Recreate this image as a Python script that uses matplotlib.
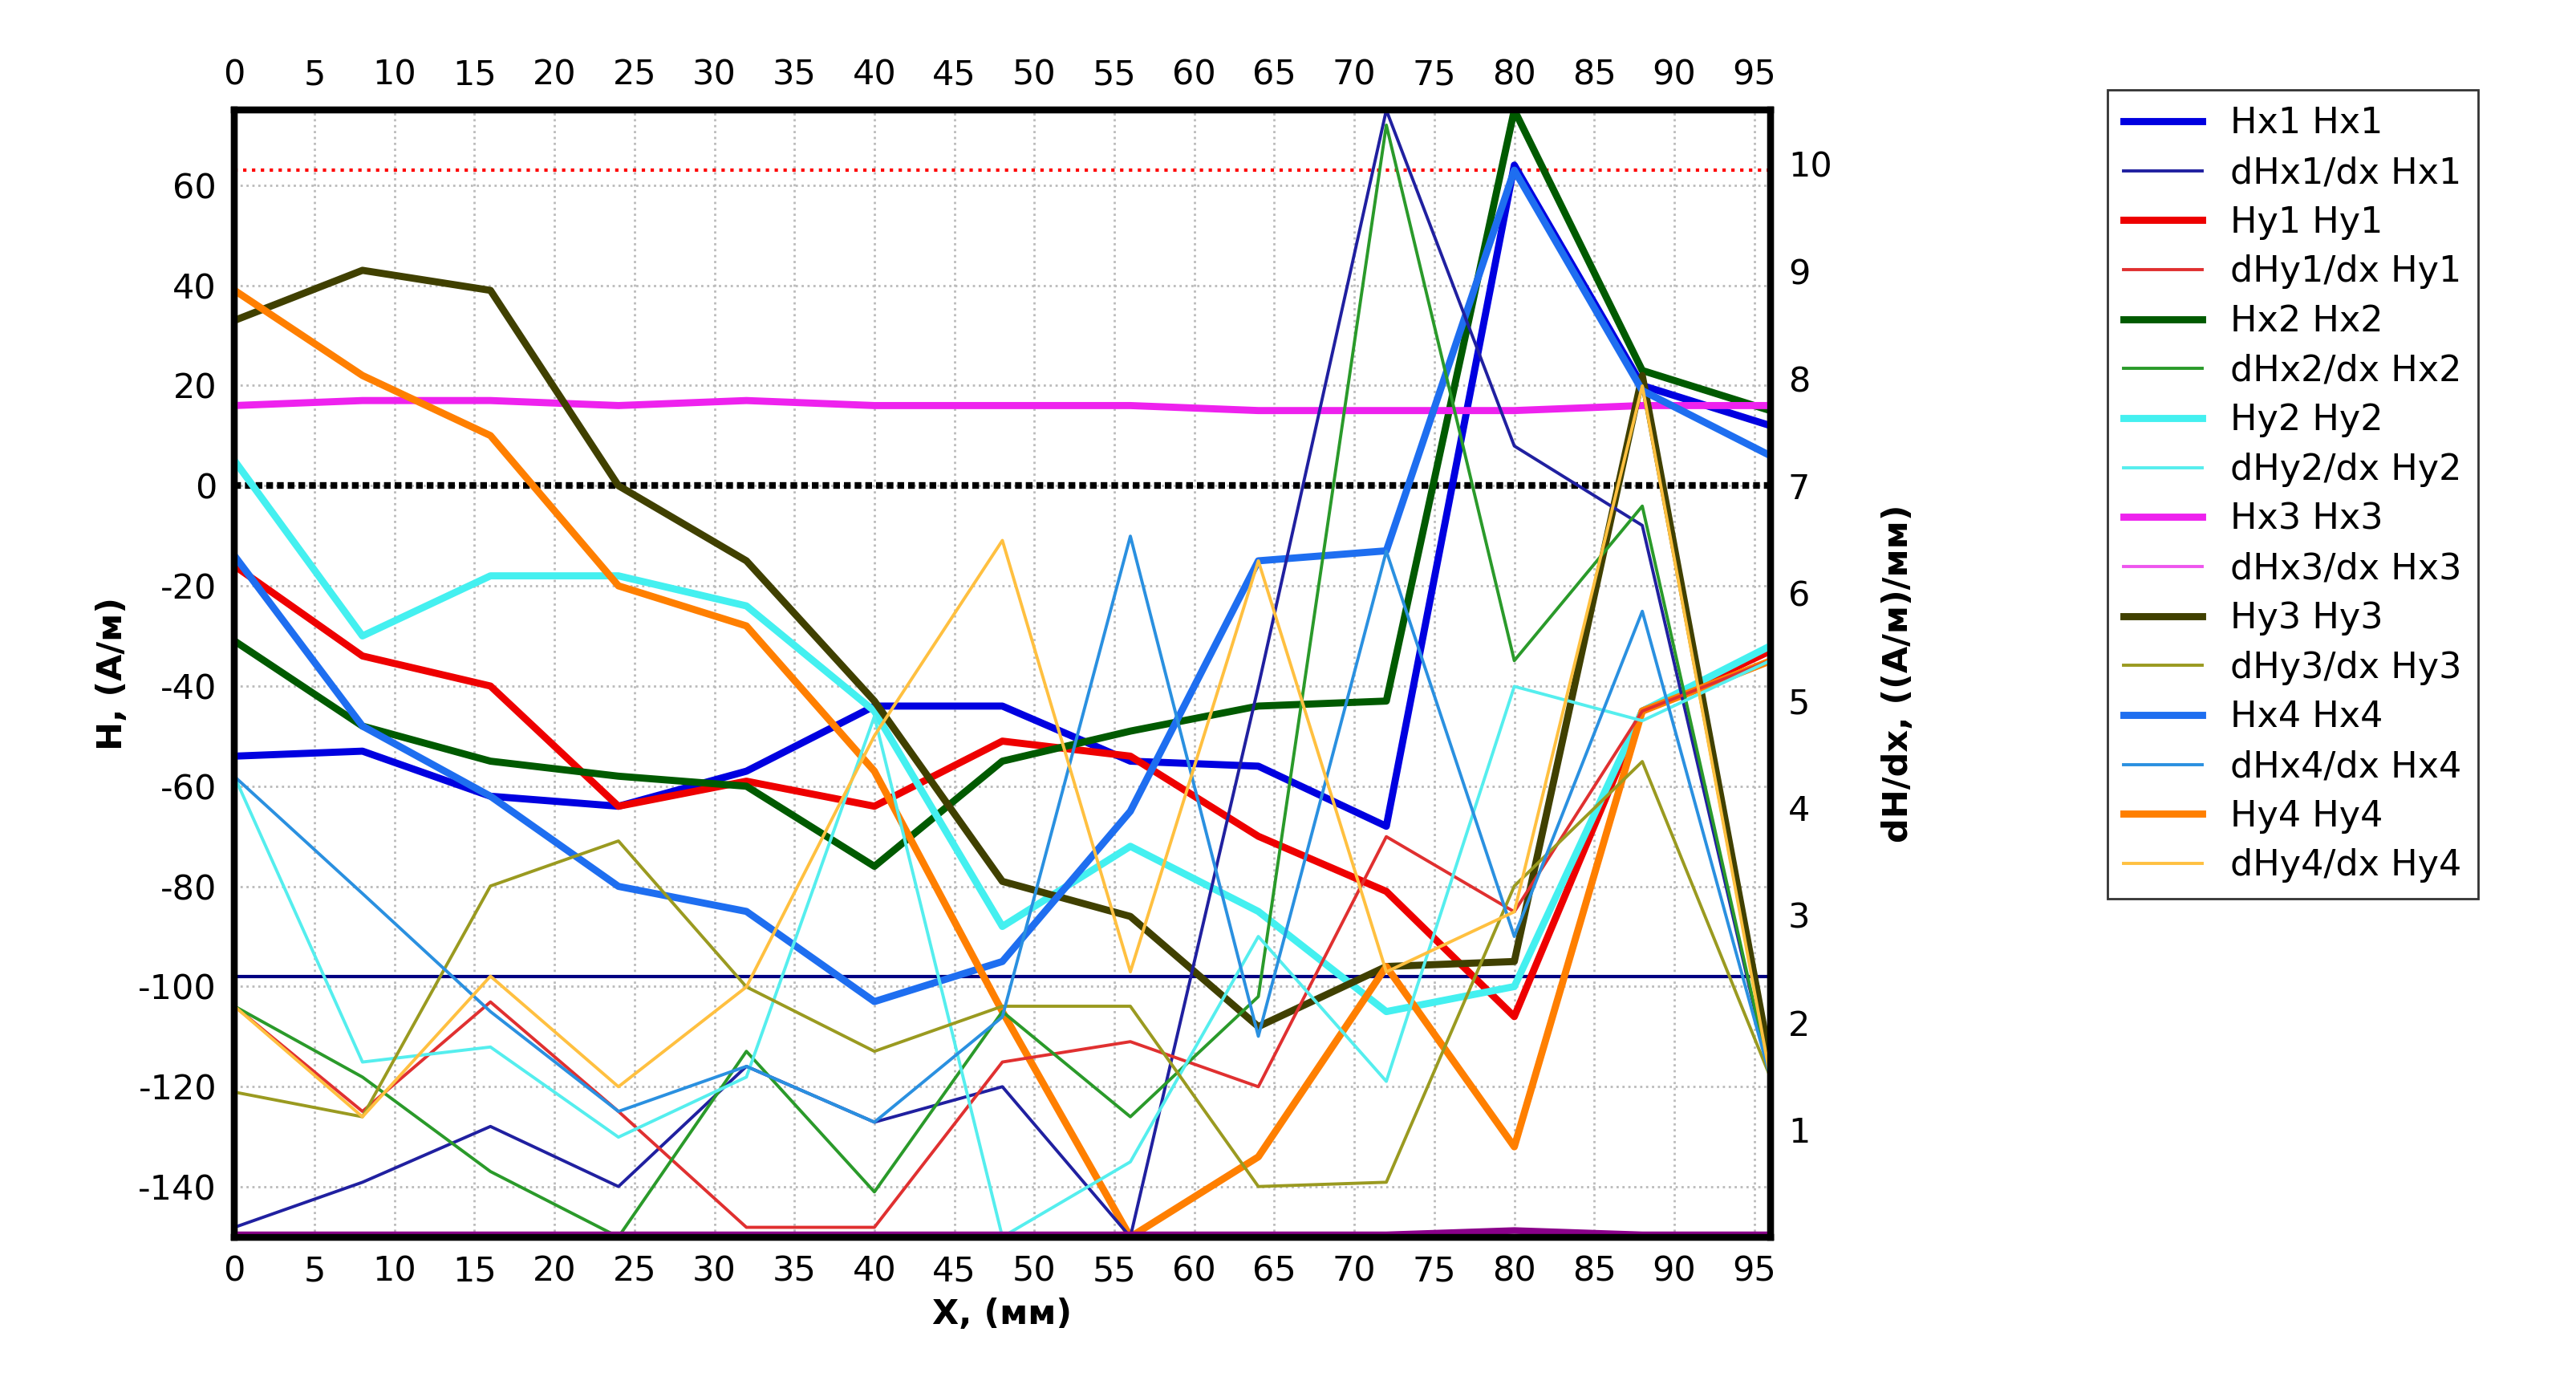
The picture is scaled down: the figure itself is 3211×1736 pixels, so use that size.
import matplotlib
matplotlib.use("Agg")
import matplotlib.pyplot as plt
import numpy as np

x = [0, 8, 16, 24, 32, 40, 48, 56, 64, 72, 80, 88, 96]

Hx1 = [-54, -53, -62, -64, -57, -44, -44, -55, -56, -68, 64, 20, 12]
Hy1 = [-16, -34, -40, -64, -59, -64, -51, -54, -70, -81, -106, -45, -33]
Hx2 = [-31, -48, -55, -58, -60, -76, -55, -49, -44, -43, 75, 23, 15]
Hy2 = [5, -30, -18, -18, -24, -45, -88, -72, -85, -105, -100, -45, -32]
Hx3 = [16, 17, 17, 16, 17, 16, 16, 16, 15, 15, 15, 16, 16]
Hy3 = [33, 43, 39, 0, -15, -43, -79, -86, -108, -96, -95, 22, -115]
Hx4 = [-14, -48, -62, -80, -85, -103, -95, -65, -15, -13, 63, 19, 6]
Hy4 = [39, 22, 10, -20, -28, -57, -105, -150, -134, -96, -132, -45, -35]

# derivative series (right axis, (A/м)/мм)
dHx1 = [0.09, 0.51, 1.03, 0.47, 1.59, 1.07, 1.40, 0.00, 5.13, 10.5, 7.37, 6.63, 1.49]
dHy1 = [2.15, 1.17, 2.19, 1.17, 0.09, 0.09, 1.63, 1.82, 1.40, 3.73, 3.03, 4.90, 5.37]
dHx2 = [2.15, 1.49, 0.61, 0.00, 1.73, 0.42, 2.10, 1.12, 2.24, 10.36, 5.37, 6.81, 1.49]
dHy2 = [4.29, 1.63, 1.77, 0.93, 1.49, 4.85, 0.00, 0.70, 2.80, 1.45, 5.13, 4.81, 5.37]
dHx3 = [0.02, 0.02, 0.02, 0.02, 0.02, 0.02, 0.02, 0.02, 0.02, 0.02, 0.06, 0.02, 0.02]
dHy3 = [1.35, 1.12, 3.27, 3.69, 2.33, 1.73, 2.15, 2.15, 0.47, 0.51, 3.27, 4.43, 1.49]
dHx4 = [4.29, 3.20, 2.10, 1.17, 1.59, 1.07, 2.05, 6.53, 1.87, 6.39, 2.80, 5.83, 1.49]
dHy4 = [2.15, 1.12, 2.43, 1.40, 2.33, 4.67, 6.49, 2.47, 6.30, 2.47, 3.03, 7.93, 1.49]

H_ref_top = 63
H_ref_zero = 0
H_ref_low = -98

plt.rcParams['font.family'] = ['DejaVu Sans']
plt.rcParams['axes.unicode_minus'] = False
fig = plt.figure(figsize=(16.06, 8.68), dpi=200)
ax = fig.add_axes([0.091, 0.112, 0.596, 0.809])
ax2 = ax.twinx()

ax.axhline(H_ref_top, color='red', ls=':', lw=1.5)
ax.axhline(H_ref_zero, color='black', ls=(0, (1, 0.6)), lw=3)
ax.axhline(H_ref_low, color='navy', ls='-', lw=1.5)

thick = [
    ("Hx1 Hx1", Hx1, "#0000e0"), ("Hy1 Hy1", Hy1, "#ee0000"),
    ("Hx2 Hx2", Hx2, "#005a00"), ("Hy2 Hy2", Hy2, "#44f0f0"),
    ("Hx3 Hx3", Hx3, "#ee22ee"), ("Hy3 Hy3", Hy3, "#404000"),
    ("Hx4 Hx4", Hx4, "#1e6ef0"), ("Hy4 Hy4", Hy4, "#ff7f00"),
]
thin = [
    ("dHx1/dx Hx1", dHx1, "#2020a0"), ("dHy1/dx Hy1", dHy1, "#e03030"),
    ("dHx2/dx Hx2", dHx2, "#2a9a2a"), ("dHy2/dx Hy2", dHy2, "#55eeee"),
    ("dHx3/dx Hx3", dHx3, "#ee55ee"), ("dHy3/dx Hy3", dHy3, "#9a9a20"),
    ("dHx4/dx Hx4", dHx4, "#2a90e0"), ("dHy4/dx Hy4", dHy4, "#ffc040"),
]
handles = []
for (lt, yt, ct), (ln, yn, cn) in zip(thick, thin):
    h1, = ax.plot(x, yt, color=ct, lw=3.2, label=lt, zorder=3)
    h2, = ax2.plot(x, yn, color=cn, lw=1.4, label=ln, zorder=2)
    handles += [h1, h2]
ax2.plot(x, dHx3, color='#8a008a', lw=3)

ax.set_xlim(0, 96)
ax.set_ylim(-150, 75)
ax2.set_ylim(0, 10.5)
ax.set_xticks(range(0, 100, 5))
ax.set_yticks(range(-140, 61, 20))
ax2.set_yticks(range(1, 11))
ax.grid(True, color='#bbbbbb', ls=':', lw=1)
ax.tick_params(labelsize=15.5, length=0, top=True, labeltop=True, pad=8)
ax2.tick_params(labelsize=15.5, length=0, pad=8)
for a in (ax, ax2):
    for s in a.spines.values():
        s.set_linewidth(3)
ax.set_xlabel("X, (мм)", fontsize=15.5, fontweight='bold')
ax.set_ylabel("H, (A/м)", fontsize=15.5, fontweight='bold')
ax2.set_ylabel("dH/dx, ((A/м)/мм)", fontsize=15.5, fontweight='bold', labelpad=22)

fig.legend(handles=handles, loc='upper left', bbox_to_anchor=(0.811, 0.948),
           fontsize=16, frameon=True, fancybox=False, edgecolor='black',
           labelspacing=0.42, handlelength=2.2, borderpad=0.45)
fig.savefig("out.png", dpi=200)
